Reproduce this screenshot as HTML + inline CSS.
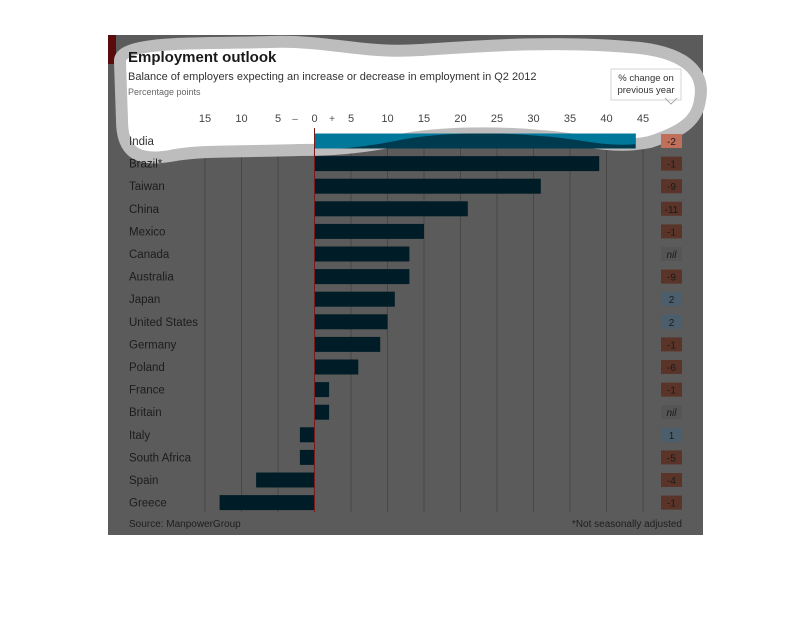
<!DOCTYPE html>
<html><head><meta charset="utf-8"><style>
body{margin:0;background:#fff;}
svg{display:block;font-family:"Liberation Sans",sans-serif;}
</style></head><body>
<svg width="810" height="630" viewBox="0 0 810 630">
<defs>
<clipPath id="blobclip"><path id="blobpathc" d="M120,62 C118,40 200,44 270,42 C330,40 360,54 420,50 C480,46 560,40 640,48 C690,54 705,75 700,100 C697,122 680,132 650,142 C610,150 580,138 540,136 C500,132 440,132 400,140 C360,148 330,150 300,150 C240,152 200,150 170,156 C135,162 122,150 122,120 Z"/></clipPath>
</defs>
<rect x="108" y="35" width="595" height="500" fill="#5b5b5b"/>
<rect x="108" y="35" width="8" height="29" fill="#5a0c0c"/>
<g id="grid"></g>
<path d="M120,62 C118,40 200,44 270,42 C330,40 360,54 420,50 C480,46 560,40 640,48 C690,54 705,75 700,100 C697,122 680,132 650,142 C610,150 580,138 540,136 C500,132 440,132 400,140 C360,148 330,150 300,150 C240,152 200,150 170,156 C135,162 122,150 122,120 Z" fill="#fff" stroke="#bdbdbd" stroke-width="12"/>
<g id="bars"></g>
<g id="labels"></g>
<text x="128" y="62" font-size="15" font-weight="bold" fill="#1a1a1a">Employment outlook</text>
<text x="128" y="80" font-size="11" fill="#333">Balance of employers expecting an increase or decrease in employment in Q2 2012</text>
<text x="128" y="95" font-size="9" fill="#666">Percentage points</text>
<g>
<rect x="611" y="69" width="70" height="31" fill="#fff" stroke="#ccc" stroke-width="0.8"/>
<text x="646" y="81" font-size="9.5" fill="#333" text-anchor="middle">% change on</text>
<text x="646" y="93" font-size="9.5" fill="#333" text-anchor="middle">previous year</text>
<path d="M665,98 L671,104 L677,98" fill="none" stroke="#999" stroke-width="0.8"/>
</g>
<g id="ticks"></g>
<text x="295" y="122" font-size="10" fill="#555" text-anchor="middle">–</text>
<text x="332" y="122" font-size="10" fill="#555" text-anchor="middle">+</text>
<text x="129" y="527" font-size="10" fill="#1e1e1e">Source: ManpowerGroup</text>
<text x="682" y="527" font-size="10" fill="#1e1e1e" text-anchor="end">*Not seasonally adjusted</text>
</svg>
<script>
const countries=["India","Brazil*","Taiwan","China","Mexico","Canada","Australia","Japan","United States","Germany","Poland","France","Britain","Italy","South Africa","Spain","Greece"];
const values=[44,39,31,21,15,13,13,11,10,9,6,2,2,-2,-2,-8,-13];
const changes=["-2","-1","-9","-11","-1","nil","-9","2","2","-1","-6","-1","nil","1","-5","-4","-1"];
const tickValues=[-15,-10,-5,0,5,10,15,20,25,30,35,40,45];
const tickLabels=["15","10","5","0","5","10","15","20","25","30","35","40","45"];
const NS="http://www.w3.org/2000/svg";
const x0=314.5, ppu=7.3, y0=141, step=22.6, bh=15;
const xs=v=>x0+v*ppu;
const ys=i=>y0+i*step;
function mk(t,a,p){const e=document.createElementNS(NS,t);for(const k in a)e.setAttribute(k,a[k]);p.appendChild(e);return e;}
const grid=document.getElementById('grid'),bars=document.getElementById('bars'),labels=document.getElementById('labels'),ticks=document.getElementById('ticks');
tickValues.forEach((v,i)=>{
  if(v!==0){const l=mk('line',{x1:xs(v),x2:xs(v),y1:128,y2:512,stroke:'#474747','stroke-width':1},grid);
  
  }
  const t=mk('text',{x:xs(v),y:122,'font-size':11,fill:'#444','text-anchor':'middle'},ticks);
  t.textContent=tickLabels[i];
  
  
});
values.forEach((v,i)=>{
  const y=ys(i)-bh/2;
  const x=Math.min(xs(0),xs(v)), w=Math.abs(xs(v)-xs(0));
  const r=mk('rect',{x:x,y:y,width:w,height:bh,fill:i===0?'#003a4f':'#001c26'},bars);
  
  
  if(i===0){const r2=mk('rect',{x:x,y:y,width:w,height:bh,fill:'#00789a','clip-path':'url(#blobclip)'},bars);
  
  }
  const lt=mk('text',{x:129,y:ys(i)+4,'font-size':11.5,fill:i===0?'#333':'#1c1c1c'},labels);
  lt.textContent=countries[i];
  
  
  const c=changes[i];
  const col=c==='nil'?'#555':(c.startsWith('-')?'#5a3428':'#4a5f6b');
  const b=mk('rect',{x:661,y:ys(i)-7,width:21,height:14,fill:i===0?'#c0705a':col},labels);
  
  
  const ct=mk('text',{x:671.5,y:ys(i)+4,'font-size':10,fill:'#1a1a1a','text-anchor':'middle','font-style':c==='nil'?'italic':'normal'},labels);
  ct.textContent=c;
  
  
});
const zl=mk('line',{x1:x0,x2:x0,y1:128,y2:512,stroke:'#7a1a1a','stroke-width':1},bars);


</script>
</body></html>
